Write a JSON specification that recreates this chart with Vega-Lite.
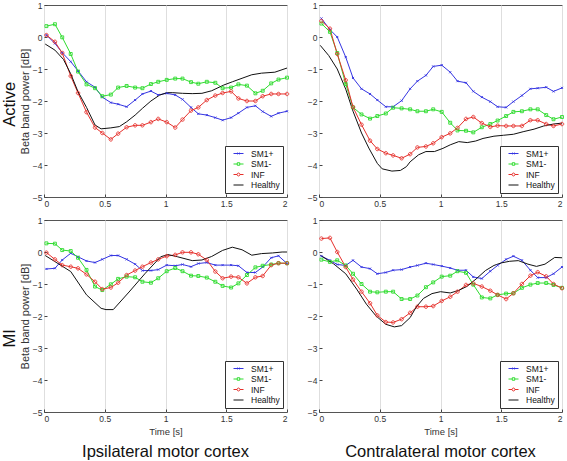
{
"$schema":"https://vega.github.io/schema/vega-lite/v6.json",
"padding":{"left":2,"top":0,"right":2,"bottom":0},
"config":{
 "font":"Liberation Sans",
 "view":{"stroke":"#555","strokeWidth":1},
 "axis":{"labelFont":"Liberation Sans","labelFontSize":8.5,"labelColor":"#333","titleFont":"Liberation Sans","titleFontSize":9.5,"titleFontWeight":"normal","titleColor":"#333","domain":false,"tickColor":"#444","tickSize":-3,"labelPadding":5,"gridColor":"#dedede","gridWidth":1},
 "title":{"font":"Liberation Sans","fontSize":16.5,"fontWeight":"normal","color":"#111"},
 "legend":{"labelFont":"Liberation Sans","labelFontSize":8.5,"labelColor":"#111","strokeColor":"#333","fillColor":"#fff","padding":3,"rowPadding":1.5,"symbolSize":64,"symbolStrokeWidth":1,"symbolOffset":6,"labelOffset":8,"orient":"bottom-right","offset":4,"title":null}
},
"datasets":{"d":[
{"p":"TL","s":"SM1+","t":0.02,"v":0.06},{"p":"TL","s":"SM1+","t":0.09,"v":-0.2},{"p":"TL","s":"SM1+","t":0.15,"v":-0.49},{"p":"TL","s":"SM1+","t":0.22,"v":-0.77},{"p":"TL","s":"SM1+","t":0.28,"v":-1.06},{"p":"TL","s":"SM1+","t":0.35,"v":-1.4},{"p":"TL","s":"SM1+","t":0.42,"v":-1.57},{"p":"TL","s":"SM1+","t":0.48,"v":-1.88},{"p":"TL","s":"SM1+","t":0.55,"v":-2.05},{"p":"TL","s":"SM1+","t":0.61,"v":-2.1},{"p":"TL","s":"SM1+","t":0.68,"v":-2.18},{"p":"TL","s":"SM1+","t":0.75,"v":-1.97},{"p":"TL","s":"SM1+","t":0.81,"v":-1.78},{"p":"TL","s":"SM1+","t":0.88,"v":-1.69},{"p":"TL","s":"SM1+","t":0.94,"v":-1.81},{"p":"TL","s":"SM1+","t":1.01,"v":-1.76},{"p":"TL","s":"SM1+","t":1.08,"v":-1.81},{"p":"TL","s":"SM1+","t":1.14,"v":-1.95},{"p":"TL","s":"SM1+","t":1.21,"v":-2.2},{"p":"TL","s":"SM1+","t":1.27,"v":-2.4},{"p":"TL","s":"SM1+","t":1.34,"v":-2.44},{"p":"TL","s":"SM1+","t":1.41,"v":-2.52},{"p":"TL","s":"SM1+","t":1.47,"v":-2.6},{"p":"TL","s":"SM1+","t":1.54,"v":-2.52},{"p":"TL","s":"SM1+","t":1.6,"v":-2.38},{"p":"TL","s":"SM1+","t":1.67,"v":-2.2},{"p":"TL","s":"SM1+","t":1.74,"v":-2.15},{"p":"TL","s":"SM1+","t":1.8,"v":-2.33},{"p":"TL","s":"SM1+","t":1.87,"v":-2.48},{"p":"TL","s":"SM1+","t":1.93,"v":-2.38},{"p":"TL","s":"SM1+","t":2,"v":-2.32},
{"p":"TL","s":"SM1-","t":0.02,"v":0.34},{"p":"TL","s":"SM1-","t":0.09,"v":0.4},{"p":"TL","s":"SM1-","t":0.15,"v":-0.01},{"p":"TL","s":"SM1-","t":0.22,"v":-0.53},{"p":"TL","s":"SM1-","t":0.28,"v":-1.08},{"p":"TL","s":"SM1-","t":0.35,"v":-1.48},{"p":"TL","s":"SM1-","t":0.42,"v":-1.6},{"p":"TL","s":"SM1-","t":0.48,"v":-1.85},{"p":"TL","s":"SM1-","t":0.55,"v":-1.8},{"p":"TL","s":"SM1-","t":0.61,"v":-1.58},{"p":"TL","s":"SM1-","t":0.68,"v":-1.53},{"p":"TL","s":"SM1-","t":0.75,"v":-1.58},{"p":"TL","s":"SM1-","t":0.81,"v":-1.6},{"p":"TL","s":"SM1-","t":0.88,"v":-1.47},{"p":"TL","s":"SM1-","t":0.94,"v":-1.4},{"p":"TL","s":"SM1-","t":1.01,"v":-1.34},{"p":"TL","s":"SM1-","t":1.08,"v":-1.3},{"p":"TL","s":"SM1-","t":1.14,"v":-1.3},{"p":"TL","s":"SM1-","t":1.21,"v":-1.41},{"p":"TL","s":"SM1-","t":1.27,"v":-1.46},{"p":"TL","s":"SM1-","t":1.34,"v":-1.4},{"p":"TL","s":"SM1-","t":1.41,"v":-1.43},{"p":"TL","s":"SM1-","t":1.47,"v":-1.6},{"p":"TL","s":"SM1-","t":1.54,"v":-1.58},{"p":"TL","s":"SM1-","t":1.6,"v":-1.48},{"p":"TL","s":"SM1-","t":1.67,"v":-1.52},{"p":"TL","s":"SM1-","t":1.74,"v":-1.76},{"p":"TL","s":"SM1-","t":1.8,"v":-1.68},{"p":"TL","s":"SM1-","t":1.87,"v":-1.45},{"p":"TL","s":"SM1-","t":1.93,"v":-1.33},{"p":"TL","s":"SM1-","t":2,"v":-1.27},
{"p":"TL","s":"INF","t":0.02,"v":0.06},{"p":"TL","s":"INF","t":0.09,"v":-0.15},{"p":"TL","s":"INF","t":0.15,"v":-0.5},{"p":"TL","s":"INF","t":0.22,"v":-1.22},{"p":"TL","s":"INF","t":0.28,"v":-1.75},{"p":"TL","s":"INF","t":0.35,"v":-2.35},{"p":"TL","s":"INF","t":0.42,"v":-2.83},{"p":"TL","s":"INF","t":0.48,"v":-3.0},{"p":"TL","s":"INF","t":0.55,"v":-3.2},{"p":"TL","s":"INF","t":0.61,"v":-3.02},{"p":"TL","s":"INF","t":0.68,"v":-2.82},{"p":"TL","s":"INF","t":0.75,"v":-2.76},{"p":"TL","s":"INF","t":0.81,"v":-2.76},{"p":"TL","s":"INF","t":0.88,"v":-2.66},{"p":"TL","s":"INF","t":0.94,"v":-2.56},{"p":"TL","s":"INF","t":1.01,"v":-2.66},{"p":"TL","s":"INF","t":1.08,"v":-2.83},{"p":"TL","s":"INF","t":1.14,"v":-2.58},{"p":"TL","s":"INF","t":1.21,"v":-2.3},{"p":"TL","s":"INF","t":1.27,"v":-2.2},{"p":"TL","s":"INF","t":1.34,"v":-1.97},{"p":"TL","s":"INF","t":1.41,"v":-1.83},{"p":"TL","s":"INF","t":1.47,"v":-1.75},{"p":"TL","s":"INF","t":1.54,"v":-1.7},{"p":"TL","s":"INF","t":1.6,"v":-1.92},{"p":"TL","s":"INF","t":1.67,"v":-2.0},{"p":"TL","s":"INF","t":1.74,"v":-2.0},{"p":"TL","s":"INF","t":1.8,"v":-1.85},{"p":"TL","s":"INF","t":1.87,"v":-1.78},{"p":"TL","s":"INF","t":1.93,"v":-1.78},{"p":"TL","s":"INF","t":2,"v":-1.78},
{"p":"TL","s":"Healthy","t":0.01,"v":-0.22},{"p":"TL","s":"Healthy","t":0.09,"v":-0.41},{"p":"TL","s":"Healthy","t":0.16,"v":-0.7},{"p":"TL","s":"Healthy","t":0.22,"v":-1.15},{"p":"TL","s":"Healthy","t":0.28,"v":-1.71},{"p":"TL","s":"Healthy","t":0.35,"v":-2.2},{"p":"TL","s":"Healthy","t":0.42,"v":-2.75},{"p":"TL","s":"Healthy","t":0.47,"v":-2.87},{"p":"TL","s":"Healthy","t":0.55,"v":-2.84},{"p":"TL","s":"Healthy","t":0.62,"v":-2.8},{"p":"TL","s":"Healthy","t":0.68,"v":-2.65},{"p":"TL","s":"Healthy","t":0.75,"v":-2.44},{"p":"TL","s":"Healthy","t":0.81,"v":-2.23},{"p":"TL","s":"Healthy","t":0.88,"v":-2.0},{"p":"TL","s":"Healthy","t":0.95,"v":-1.82},{"p":"TL","s":"Healthy","t":1.01,"v":-1.74},{"p":"TL","s":"Healthy","t":1.06,"v":-1.74},{"p":"TL","s":"Healthy","t":1.14,"v":-1.76},{"p":"TL","s":"Healthy","t":1.22,"v":-1.77},{"p":"TL","s":"Healthy","t":1.3,"v":-1.76},{"p":"TL","s":"Healthy","t":1.38,"v":-1.68},{"p":"TL","s":"Healthy","t":1.48,"v":-1.5},{"p":"TL","s":"Healthy","t":1.55,"v":-1.4},{"p":"TL","s":"Healthy","t":1.63,"v":-1.29},{"p":"TL","s":"Healthy","t":1.71,"v":-1.18},{"p":"TL","s":"Healthy","t":1.79,"v":-1.13},{"p":"TL","s":"Healthy","t":1.9,"v":-1.1},{"p":"TL","s":"Healthy","t":2,"v":-0.97},
{"p":"TR","s":"SM1+","t":0.02,"v":0.58},{"p":"TR","s":"SM1+","t":0.09,"v":0.23},{"p":"TR","s":"SM1+","t":0.15,"v":0.0},{"p":"TR","s":"SM1+","t":0.22,"v":-0.63},{"p":"TR","s":"SM1+","t":0.28,"v":-1.28},{"p":"TR","s":"SM1+","t":0.35,"v":-1.62},{"p":"TR","s":"SM1+","t":0.42,"v":-1.78},{"p":"TR","s":"SM1+","t":0.48,"v":-1.97},{"p":"TR","s":"SM1+","t":0.55,"v":-2.18},{"p":"TR","s":"SM1+","t":0.61,"v":-2.18},{"p":"TR","s":"SM1+","t":0.68,"v":-1.99},{"p":"TR","s":"SM1+","t":0.75,"v":-1.62},{"p":"TR","s":"SM1+","t":0.81,"v":-1.38},{"p":"TR","s":"SM1+","t":0.88,"v":-1.2},{"p":"TR","s":"SM1+","t":0.94,"v":-0.92},{"p":"TR","s":"SM1+","t":1.01,"v":-0.88},{"p":"TR","s":"SM1+","t":1.08,"v":-1.1},{"p":"TR","s":"SM1+","t":1.14,"v":-1.38},{"p":"TR","s":"SM1+","t":1.21,"v":-1.43},{"p":"TR","s":"SM1+","t":1.27,"v":-1.7},{"p":"TR","s":"SM1+","t":1.34,"v":-1.88},{"p":"TR","s":"SM1+","t":1.41,"v":-2.02},{"p":"TR","s":"SM1+","t":1.47,"v":-2.18},{"p":"TR","s":"SM1+","t":1.54,"v":-2.2},{"p":"TR","s":"SM1+","t":1.6,"v":-2.02},{"p":"TR","s":"SM1+","t":1.67,"v":-1.83},{"p":"TR","s":"SM1+","t":1.74,"v":-1.62},{"p":"TR","s":"SM1+","t":1.8,"v":-1.6},{"p":"TR","s":"SM1+","t":1.87,"v":-1.57},{"p":"TR","s":"SM1+","t":1.93,"v":-1.7},{"p":"TR","s":"SM1+","t":2,"v":-1.59},
{"p":"TR","s":"SM1-","t":0.02,"v":0.42},{"p":"TR","s":"SM1-","t":0.09,"v":0.16},{"p":"TR","s":"SM1-","t":0.15,"v":-0.5},{"p":"TR","s":"SM1-","t":0.22,"v":-1.47},{"p":"TR","s":"SM1-","t":0.28,"v":-2.2},{"p":"TR","s":"SM1-","t":0.35,"v":-2.42},{"p":"TR","s":"SM1-","t":0.42,"v":-2.55},{"p":"TR","s":"SM1-","t":0.48,"v":-2.47},{"p":"TR","s":"SM1-","t":0.55,"v":-2.39},{"p":"TR","s":"SM1-","t":0.61,"v":-2.21},{"p":"TR","s":"SM1-","t":0.68,"v":-2.23},{"p":"TR","s":"SM1-","t":0.75,"v":-2.26},{"p":"TR","s":"SM1-","t":0.81,"v":-2.32},{"p":"TR","s":"SM1-","t":0.88,"v":-2.32},{"p":"TR","s":"SM1-","t":0.94,"v":-2.26},{"p":"TR","s":"SM1-","t":1.01,"v":-2.34},{"p":"TR","s":"SM1-","t":1.08,"v":-2.68},{"p":"TR","s":"SM1-","t":1.14,"v":-2.92},{"p":"TR","s":"SM1-","t":1.21,"v":-2.93},{"p":"TR","s":"SM1-","t":1.27,"v":-2.98},{"p":"TR","s":"SM1-","t":1.34,"v":-2.82},{"p":"TR","s":"SM1-","t":1.41,"v":-2.72},{"p":"TR","s":"SM1-","t":1.47,"v":-2.61},{"p":"TR","s":"SM1-","t":1.54,"v":-2.47},{"p":"TR","s":"SM1-","t":1.6,"v":-2.34},{"p":"TR","s":"SM1-","t":1.67,"v":-2.32},{"p":"TR","s":"SM1-","t":1.74,"v":-2.26},{"p":"TR","s":"SM1-","t":1.8,"v":-2.26},{"p":"TR","s":"SM1-","t":1.87,"v":-2.44},{"p":"TR","s":"SM1-","t":1.93,"v":-2.57},{"p":"TR","s":"SM1-","t":2,"v":-2.5},
{"p":"TR","s":"INF","t":0.02,"v":0.5},{"p":"TR","s":"INF","t":0.09,"v":0.26},{"p":"TR","s":"INF","t":0.15,"v":-0.53},{"p":"TR","s":"INF","t":0.22,"v":-1.35},{"p":"TR","s":"INF","t":0.28,"v":-2.19},{"p":"TR","s":"INF","t":0.35,"v":-2.74},{"p":"TR","s":"INF","t":0.42,"v":-3.24},{"p":"TR","s":"INF","t":0.48,"v":-3.5},{"p":"TR","s":"INF","t":0.55,"v":-3.63},{"p":"TR","s":"INF","t":0.61,"v":-3.7},{"p":"TR","s":"INF","t":0.68,"v":-3.79},{"p":"TR","s":"INF","t":0.75,"v":-3.66},{"p":"TR","s":"INF","t":0.81,"v":-3.45},{"p":"TR","s":"INF","t":0.88,"v":-3.42},{"p":"TR","s":"INF","t":0.94,"v":-3.32},{"p":"TR","s":"INF","t":1.01,"v":-3.13},{"p":"TR","s":"INF","t":1.08,"v":-3.01},{"p":"TR","s":"INF","t":1.14,"v":-2.84},{"p":"TR","s":"INF","t":1.21,"v":-2.56},{"p":"TR","s":"INF","t":1.27,"v":-2.5},{"p":"TR","s":"INF","t":1.34,"v":-2.69},{"p":"TR","s":"INF","t":1.41,"v":-2.81},{"p":"TR","s":"INF","t":1.47,"v":-2.77},{"p":"TR","s":"INF","t":1.54,"v":-2.78},{"p":"TR","s":"INF","t":1.6,"v":-2.78},{"p":"TR","s":"INF","t":1.67,"v":-2.78},{"p":"TR","s":"INF","t":1.74,"v":-2.6},{"p":"TR","s":"INF","t":1.8,"v":-2.6},{"p":"TR","s":"INF","t":1.87,"v":-2.72},{"p":"TR","s":"INF","t":1.93,"v":-2.78},{"p":"TR","s":"INF","t":2,"v":-2.72},
{"p":"TR","s":"Healthy","t":0.01,"v":-0.26},{"p":"TR","s":"Healthy","t":0.08,"v":-0.58},{"p":"TR","s":"Healthy","t":0.15,"v":-1.0},{"p":"TR","s":"Healthy","t":0.22,"v":-1.63},{"p":"TR","s":"Healthy","t":0.28,"v":-2.32},{"p":"TR","s":"Healthy","t":0.35,"v":-3.0},{"p":"TR","s":"Healthy","t":0.41,"v":-3.47},{"p":"TR","s":"Healthy","t":0.48,"v":-3.95},{"p":"TR","s":"Healthy","t":0.52,"v":-4.12},{"p":"TR","s":"Healthy","t":0.6,"v":-4.19},{"p":"TR","s":"Healthy","t":0.67,"v":-4.17},{"p":"TR","s":"Healthy","t":0.72,"v":-4.05},{"p":"TR","s":"Healthy","t":0.75,"v":-3.9},{"p":"TR","s":"Healthy","t":0.82,"v":-3.68},{"p":"TR","s":"Healthy","t":0.88,"v":-3.58},{"p":"TR","s":"Healthy","t":0.95,"v":-3.58},{"p":"TR","s":"Healthy","t":1.02,"v":-3.48},{"p":"TR","s":"Healthy","t":1.08,"v":-3.37},{"p":"TR","s":"Healthy","t":1.15,"v":-3.27},{"p":"TR","s":"Healthy","t":1.22,"v":-3.3},{"p":"TR","s":"Healthy","t":1.29,"v":-3.25},{"p":"TR","s":"Healthy","t":1.35,"v":-3.17},{"p":"TR","s":"Healthy","t":1.44,"v":-3.1},{"p":"TR","s":"Healthy","t":1.52,"v":-3.07},{"p":"TR","s":"Healthy","t":1.6,"v":-3.04},{"p":"TR","s":"Healthy","t":1.68,"v":-2.96},{"p":"TR","s":"Healthy","t":1.77,"v":-2.88},{"p":"TR","s":"Healthy","t":1.85,"v":-2.78},{"p":"TR","s":"Healthy","t":1.93,"v":-2.72},{"p":"TR","s":"Healthy","t":2,"v":-2.69},
{"p":"BL","s":"SM1+","t":0.02,"v":-0.53},{"p":"BL","s":"SM1+","t":0.09,"v":-0.51},{"p":"BL","s":"SM1+","t":0.15,"v":-0.25},{"p":"BL","s":"SM1+","t":0.22,"v":-0.04},{"p":"BL","s":"SM1+","t":0.28,"v":-0.15},{"p":"BL","s":"SM1+","t":0.35,"v":-0.28},{"p":"BL","s":"SM1+","t":0.42,"v":-0.33},{"p":"BL","s":"SM1+","t":0.48,"v":-0.23},{"p":"BL","s":"SM1+","t":0.55,"v":-0.11},{"p":"BL","s":"SM1+","t":0.61,"v":-0.11},{"p":"BL","s":"SM1+","t":0.68,"v":-0.23},{"p":"BL","s":"SM1+","t":0.75,"v":-0.38},{"p":"BL","s":"SM1+","t":0.81,"v":-0.58},{"p":"BL","s":"SM1+","t":0.88,"v":-0.58},{"p":"BL","s":"SM1+","t":0.94,"v":-0.55},{"p":"BL","s":"SM1+","t":1.01,"v":-0.41},{"p":"BL","s":"SM1+","t":1.08,"v":-0.43},{"p":"BL","s":"SM1+","t":1.14,"v":-0.39},{"p":"BL","s":"SM1+","t":1.21,"v":-0.46},{"p":"BL","s":"SM1+","t":1.27,"v":-0.36},{"p":"BL","s":"SM1+","t":1.34,"v":-0.33},{"p":"BL","s":"SM1+","t":1.41,"v":-0.41},{"p":"BL","s":"SM1+","t":1.47,"v":-0.41},{"p":"BL","s":"SM1+","t":1.54,"v":-0.41},{"p":"BL","s":"SM1+","t":1.6,"v":-0.43},{"p":"BL","s":"SM1+","t":1.67,"v":-0.64},{"p":"BL","s":"SM1+","t":1.74,"v":-0.64},{"p":"BL","s":"SM1+","t":1.8,"v":-0.47},{"p":"BL","s":"SM1+","t":1.87,"v":-0.18},{"p":"BL","s":"SM1+","t":1.93,"v":-0.12},{"p":"BL","s":"SM1+","t":2,"v":-0.36},
{"p":"BL","s":"SM1-","t":0.02,"v":0.27},{"p":"BL","s":"SM1-","t":0.09,"v":0.26},{"p":"BL","s":"SM1-","t":0.15,"v":0.06},{"p":"BL","s":"SM1-","t":0.22,"v":0.03},{"p":"BL","s":"SM1-","t":0.28,"v":-0.18},{"p":"BL","s":"SM1-","t":0.35,"v":-0.56},{"p":"BL","s":"SM1-","t":0.42,"v":-1.08},{"p":"BL","s":"SM1-","t":0.48,"v":-1.19},{"p":"BL","s":"SM1-","t":0.55,"v":-1.01},{"p":"BL","s":"SM1-","t":0.61,"v":-0.84},{"p":"BL","s":"SM1-","t":0.68,"v":-0.77},{"p":"BL","s":"SM1-","t":0.75,"v":-0.79},{"p":"BL","s":"SM1-","t":0.81,"v":-0.93},{"p":"BL","s":"SM1-","t":0.88,"v":-0.96},{"p":"BL","s":"SM1-","t":0.94,"v":-0.82},{"p":"BL","s":"SM1-","t":1.01,"v":-0.6},{"p":"BL","s":"SM1-","t":1.08,"v":-0.5},{"p":"BL","s":"SM1-","t":1.14,"v":-0.6},{"p":"BL","s":"SM1-","t":1.21,"v":-0.74},{"p":"BL","s":"SM1-","t":1.27,"v":-0.75},{"p":"BL","s":"SM1-","t":1.34,"v":-0.8},{"p":"BL","s":"SM1-","t":1.41,"v":-0.93},{"p":"BL","s":"SM1-","t":1.47,"v":-1.06},{"p":"BL","s":"SM1-","t":1.54,"v":-1.11},{"p":"BL","s":"SM1-","t":1.6,"v":-0.98},{"p":"BL","s":"SM1-","t":1.67,"v":-0.72},{"p":"BL","s":"SM1-","t":1.74,"v":-0.48},{"p":"BL","s":"SM1-","t":1.8,"v":-0.43},{"p":"BL","s":"SM1-","t":1.87,"v":-0.39},{"p":"BL","s":"SM1-","t":1.93,"v":-0.35},{"p":"BL","s":"SM1-","t":2,"v":-0.35},
{"p":"BL","s":"INF","t":0.02,"v":-0.02},{"p":"BL","s":"INF","t":0.09,"v":-0.23},{"p":"BL","s":"INF","t":0.15,"v":-0.41},{"p":"BL","s":"INF","t":0.22,"v":-0.46},{"p":"BL","s":"INF","t":0.28,"v":-0.51},{"p":"BL","s":"INF","t":0.35,"v":-0.7},{"p":"BL","s":"INF","t":0.42,"v":-0.93},{"p":"BL","s":"INF","t":0.48,"v":-1.16},{"p":"BL","s":"INF","t":0.55,"v":-1.11},{"p":"BL","s":"INF","t":0.61,"v":-0.96},{"p":"BL","s":"INF","t":0.68,"v":-0.72},{"p":"BL","s":"INF","t":0.75,"v":-0.58},{"p":"BL","s":"INF","t":0.81,"v":-0.46},{"p":"BL","s":"INF","t":0.88,"v":-0.33},{"p":"BL","s":"INF","t":0.94,"v":-0.23},{"p":"BL","s":"INF","t":1.01,"v":-0.13},{"p":"BL","s":"INF","t":1.08,"v":-0.09},{"p":"BL","s":"INF","t":1.14,"v":-0.01},{"p":"BL","s":"INF","t":1.21,"v":-0.01},{"p":"BL","s":"INF","t":1.27,"v":-0.07},{"p":"BL","s":"INF","t":1.34,"v":-0.25},{"p":"BL","s":"INF","t":1.41,"v":-0.61},{"p":"BL","s":"INF","t":1.47,"v":-0.82},{"p":"BL","s":"INF","t":1.54,"v":-0.77},{"p":"BL","s":"INF","t":1.6,"v":-0.79},{"p":"BL","s":"INF","t":1.67,"v":-0.98},{"p":"BL","s":"INF","t":1.74,"v":-0.79},{"p":"BL","s":"INF","t":1.8,"v":-0.75},{"p":"BL","s":"INF","t":1.87,"v":-0.41},{"p":"BL","s":"INF","t":1.93,"v":-0.35},{"p":"BL","s":"INF","t":2,"v":-0.35},
{"p":"BL","s":"Healthy","t":0.01,"v":-0.11},{"p":"BL","s":"Healthy","t":0.09,"v":-0.3},{"p":"BL","s":"Healthy","t":0.22,"v":-0.61},{"p":"BL","s":"Healthy","t":0.35,"v":-1.34},{"p":"BL","s":"Healthy","t":0.47,"v":-1.76},{"p":"BL","s":"Healthy","t":0.51,"v":-1.8},{"p":"BL","s":"Healthy","t":0.57,"v":-1.8},{"p":"BL","s":"Healthy","t":0.7,"v":-1.25},{"p":"BL","s":"Healthy","t":0.83,"v":-0.68},{"p":"BL","s":"Healthy","t":0.96,"v":-0.15},{"p":"BL","s":"Healthy","t":1.02,"v":-0.08},{"p":"BL","s":"Healthy","t":1.1,"v":-0.15},{"p":"BL","s":"Healthy","t":1.22,"v":-0.27},{"p":"BL","s":"Healthy","t":1.3,"v":-0.25},{"p":"BL","s":"Healthy","t":1.38,"v":-0.14},{"p":"BL","s":"Healthy","t":1.47,"v":0.05},{"p":"BL","s":"Healthy","t":1.55,"v":0.15},{"p":"BL","s":"Healthy","t":1.63,"v":0.07},{"p":"BL","s":"Healthy","t":1.71,"v":-0.1},{"p":"BL","s":"Healthy","t":1.79,"v":-0.05},{"p":"BL","s":"Healthy","t":1.88,"v":-0.03},{"p":"BL","s":"Healthy","t":1.96,"v":0.0},{"p":"BL","s":"Healthy","t":2,"v":0.0},
{"p":"BR","s":"SM1+","t":0.02,"v":-0.13},{"p":"BR","s":"SM1+","t":0.09,"v":-0.26},{"p":"BR","s":"SM1+","t":0.15,"v":-0.39},{"p":"BR","s":"SM1+","t":0.22,"v":-0.42},{"p":"BR","s":"SM1+","t":0.28,"v":-0.26},{"p":"BR","s":"SM1+","t":0.35,"v":-0.47},{"p":"BR","s":"SM1+","t":0.42,"v":-0.52},{"p":"BR","s":"SM1+","t":0.48,"v":-0.68},{"p":"BR","s":"SM1+","t":0.55,"v":-0.64},{"p":"BR","s":"SM1+","t":0.61,"v":-0.57},{"p":"BR","s":"SM1+","t":0.68,"v":-0.55},{"p":"BR","s":"SM1+","t":0.75,"v":-0.47},{"p":"BR","s":"SM1+","t":0.81,"v":-0.42},{"p":"BR","s":"SM1+","t":0.88,"v":-0.35},{"p":"BR","s":"SM1+","t":0.94,"v":-0.39},{"p":"BR","s":"SM1+","t":1.01,"v":-0.44},{"p":"BR","s":"SM1+","t":1.08,"v":-0.5},{"p":"BR","s":"SM1+","t":1.14,"v":-0.57},{"p":"BR","s":"SM1+","t":1.21,"v":-0.57},{"p":"BR","s":"SM1+","t":1.27,"v":-0.78},{"p":"BR","s":"SM1+","t":1.34,"v":-0.83},{"p":"BR","s":"SM1+","t":1.41,"v":-0.6},{"p":"BR","s":"SM1+","t":1.47,"v":-0.42},{"p":"BR","s":"SM1+","t":1.54,"v":-0.23},{"p":"BR","s":"SM1+","t":1.6,"v":-0.13},{"p":"BR","s":"SM1+","t":1.67,"v":-0.26},{"p":"BR","s":"SM1+","t":1.74,"v":-0.57},{"p":"BR","s":"SM1+","t":1.8,"v":-0.8},{"p":"BR","s":"SM1+","t":1.87,"v":-0.8},{"p":"BR","s":"SM1+","t":1.93,"v":-0.68},{"p":"BR","s":"SM1+","t":2,"v":-0.47},
{"p":"BR","s":"SM1-","t":0.02,"v":-0.24},{"p":"BR","s":"SM1-","t":0.09,"v":-0.31},{"p":"BR","s":"SM1-","t":0.15,"v":-0.26},{"p":"BR","s":"SM1-","t":0.22,"v":-0.42},{"p":"BR","s":"SM1-","t":0.28,"v":-0.68},{"p":"BR","s":"SM1-","t":0.35,"v":-1.0},{"p":"BR","s":"SM1-","t":0.42,"v":-1.24},{"p":"BR","s":"SM1-","t":0.48,"v":-1.26},{"p":"BR","s":"SM1-","t":0.55,"v":-1.24},{"p":"BR","s":"SM1-","t":0.61,"v":-1.24},{"p":"BR","s":"SM1-","t":0.68,"v":-1.47},{"p":"BR","s":"SM1-","t":0.75,"v":-1.47},{"p":"BR","s":"SM1-","t":0.81,"v":-1.36},{"p":"BR","s":"SM1-","t":0.88,"v":-1.1},{"p":"BR","s":"SM1-","t":0.94,"v":-0.95},{"p":"BR","s":"SM1-","t":1.01,"v":-0.77},{"p":"BR","s":"SM1-","t":1.08,"v":-0.74},{"p":"BR","s":"SM1-","t":1.14,"v":-0.6},{"p":"BR","s":"SM1-","t":1.21,"v":-0.65},{"p":"BR","s":"SM1-","t":1.27,"v":-1.02},{"p":"BR","s":"SM1-","t":1.34,"v":-1.42},{"p":"BR","s":"SM1-","t":1.41,"v":-1.45},{"p":"BR","s":"SM1-","t":1.47,"v":-1.34},{"p":"BR","s":"SM1-","t":1.54,"v":-1.3},{"p":"BR","s":"SM1-","t":1.6,"v":-1.29},{"p":"BR","s":"SM1-","t":1.67,"v":-1.12},{"p":"BR","s":"SM1-","t":1.74,"v":-1.02},{"p":"BR","s":"SM1-","t":1.8,"v":-0.97},{"p":"BR","s":"SM1-","t":1.87,"v":-0.97},{"p":"BR","s":"SM1-","t":1.93,"v":-1.03},{"p":"BR","s":"SM1-","t":2,"v":-1.12},
{"p":"BR","s":"INF","t":0.02,"v":0.42},{"p":"BR","s":"INF","t":0.09,"v":0.44},{"p":"BR","s":"INF","t":0.15,"v":0.0},{"p":"BR","s":"INF","t":0.22,"v":-0.47},{"p":"BR","s":"INF","t":0.28,"v":-0.86},{"p":"BR","s":"INF","t":0.35,"v":-1.24},{"p":"BR","s":"INF","t":0.42,"v":-1.6},{"p":"BR","s":"INF","t":0.48,"v":-1.98},{"p":"BR","s":"INF","t":0.55,"v":-2.19},{"p":"BR","s":"INF","t":0.61,"v":-2.2},{"p":"BR","s":"INF","t":0.68,"v":-2.1},{"p":"BR","s":"INF","t":0.75,"v":-1.9},{"p":"BR","s":"INF","t":0.81,"v":-1.71},{"p":"BR","s":"INF","t":0.88,"v":-1.71},{"p":"BR","s":"INF","t":0.94,"v":-1.69},{"p":"BR","s":"INF","t":1.01,"v":-1.53},{"p":"BR","s":"INF","t":1.08,"v":-1.4},{"p":"BR","s":"INF","t":1.14,"v":-1.24},{"p":"BR","s":"INF","t":1.21,"v":-1.03},{"p":"BR","s":"INF","t":1.27,"v":-0.98},{"p":"BR","s":"INF","t":1.34,"v":-1.08},{"p":"BR","s":"INF","t":1.41,"v":-1.21},{"p":"BR","s":"INF","t":1.47,"v":-1.34},{"p":"BR","s":"INF","t":1.54,"v":-1.47},{"p":"BR","s":"INF","t":1.6,"v":-1.29},{"p":"BR","s":"INF","t":1.67,"v":-1.0},{"p":"BR","s":"INF","t":1.74,"v":-0.74},{"p":"BR","s":"INF","t":1.8,"v":-0.63},{"p":"BR","s":"INF","t":1.87,"v":-0.76},{"p":"BR","s":"INF","t":1.93,"v":-1.0},{"p":"BR","s":"INF","t":2,"v":-1.13},
{"p":"BR","s":"Healthy","t":0.01,"v":-0.1},{"p":"BR","s":"Healthy","t":0.12,"v":-0.37},{"p":"BR","s":"Healthy","t":0.22,"v":-0.68},{"p":"BR","s":"Healthy","t":0.31,"v":-1.16},{"p":"BR","s":"Healthy","t":0.39,"v":-1.63},{"p":"BR","s":"Healthy","t":0.47,"v":-2.0},{"p":"BR","s":"Healthy","t":0.55,"v":-2.26},{"p":"BR","s":"Healthy","t":0.62,"v":-2.34},{"p":"BR","s":"Healthy","t":0.68,"v":-2.3},{"p":"BR","s":"Healthy","t":0.75,"v":-2.05},{"p":"BR","s":"Healthy","t":0.8,"v":-1.72},{"p":"BR","s":"Healthy","t":0.86,"v":-1.45},{"p":"BR","s":"Healthy","t":0.93,"v":-1.3},{"p":"BR","s":"Healthy","t":1.0,"v":-1.24},{"p":"BR","s":"Healthy","t":1.08,"v":-1.28},{"p":"BR","s":"Healthy","t":1.15,"v":-1.2},{"p":"BR","s":"Healthy","t":1.22,"v":-1.07},{"p":"BR","s":"Healthy","t":1.3,"v":-0.82},{"p":"BR","s":"Healthy","t":1.37,"v":-0.58},{"p":"BR","s":"Healthy","t":1.44,"v":-0.42},{"p":"BR","s":"Healthy","t":1.5,"v":-0.34},{"p":"BR","s":"Healthy","t":1.57,"v":-0.29},{"p":"BR","s":"Healthy","t":1.64,"v":-0.27},{"p":"BR","s":"Healthy","t":1.72,"v":-0.38},{"p":"BR","s":"Healthy","t":1.79,"v":-0.45},{"p":"BR","s":"Healthy","t":1.86,"v":-0.38},{"p":"BR","s":"Healthy","t":1.94,"v":-0.17},{"p":"BR","s":"Healthy","t":2,"v":-0.18}
]},
"data":{"name":"d"},
"spacing":7,
"resolve":{"scale":{"color":"independent","shape":"independent"},"legend":{"color":"independent","shape":"independent"}},
"vconcat":[
{"title":{"text":"Active","orient":"left","anchor":"middle","offset":0},
 "spacing":14,
 "resolve":{"scale":{"color":"independent","shape":"independent"},"legend":{"color":"independent","shape":"independent"}},
 "hconcat":[
  {"width":243,"height":192,"transform":[{"filter":"datum.p==='TL'"}],
   "encoding":{
    "x":{"field":"t","type":"quantitative","scale":{"domain":[0,2],"nice":false,"zero":false},"axis":{"values":[0,0.5,1,1.5,2],"format":"~g","title":null,"grid":true}},
    "y":{"field":"v","type":"quantitative","scale":{"domain":[-5,1],"nice":false},"axis":{"values":[-5,-4,-3,-2,-1,0,1],"format":"d","title":"Beta band power [dB]","titleFontSize":11,"grid":false,"titlePadding":2}},
    "color":{"field":"s","type":"nominal","scale":{"domain":["SM1+","SM1-","INF","Healthy"],"range":["#3535e2","#2fdc2f","#e6302b","#111111"]}}
   },
   "layer":[
    {"mark":{"type":"line","strokeWidth":1},"encoding":{}},
    {"transform":[{"filter":"datum.s==='SM1+'"}],"mark":{"type":"point","filled":false,"strokeWidth":0.9,"size":12,"opacity":1,"shape":"M-0.6,-0.6L0.6,0.6M-0.6,0.6L0.6,-0.6"},"encoding":{}},
    {"transform":[{"filter":"datum.s==='SM1-'"}],"mark":{"type":"point","filled":false,"strokeWidth":0.9,"size":12,"opacity":1,"shape":"M-0.85,-0.85H0.85V0.85H-0.85Z"},"encoding":{}},
    {"transform":[{"filter":"datum.s==='INF'"}],"mark":{"type":"point","filled":false,"strokeWidth":0.9,"size":12,"opacity":1,"shape":"M-1,0A1,1,0,1,0,1,0A1,1,0,1,0,-1,0"},"encoding":{}},
    {"transform":[{"filter":"false"}],"mark":{"type":"point","filled":false,"strokeWidth":1,"opacity":1},
     "encoding":{"shape":{"field":"s","type":"nominal","scale":{"domain":["SM1+","SM1-","INF","Healthy"],"range":["M-1.25,0H1.25M-0.22,-0.22L0.22,0.22M-0.22,0.22L0.22,-0.22","M-1.25,0H-0.31M0.31,0H1.25M-0.31,-0.31H0.31V0.31H-0.31Z","M-1.25,0H-0.37M0.37,0H1.25M-0.37,0A0.37,0.37,0,1,0,0.37,0A0.37,0.37,0,1,0,-0.37,0","M-1.25,0H1.25"]}}}}
   ]},
  {"width":243,"height":192,"transform":[{"filter":"datum.p==='TR'"}],
   "encoding":{
    "x":{"field":"t","type":"quantitative","scale":{"domain":[0,2],"nice":false,"zero":false},"axis":{"values":[0,0.5,1,1.5,2],"format":"~g","title":null,"grid":true}},
    "y":{"field":"v","type":"quantitative","scale":{"domain":[-5,1],"nice":false},"axis":{"values":[-5,-4,-3,-2,-1,0,1],"format":"d","title":null,"grid":false}},
    "color":{"field":"s","type":"nominal","scale":{"domain":["SM1+","SM1-","INF","Healthy"],"range":["#3535e2","#2fdc2f","#e6302b","#111111"]}}
   },
   "layer":[
    {"mark":{"type":"line","strokeWidth":1},"encoding":{}},
    {"transform":[{"filter":"datum.s==='SM1+'"}],"mark":{"type":"point","filled":false,"strokeWidth":0.9,"size":12,"opacity":1,"shape":"M-0.6,-0.6L0.6,0.6M-0.6,0.6L0.6,-0.6"},"encoding":{}},
    {"transform":[{"filter":"datum.s==='SM1-'"}],"mark":{"type":"point","filled":false,"strokeWidth":0.9,"size":12,"opacity":1,"shape":"M-0.85,-0.85H0.85V0.85H-0.85Z"},"encoding":{}},
    {"transform":[{"filter":"datum.s==='INF'"}],"mark":{"type":"point","filled":false,"strokeWidth":0.9,"size":12,"opacity":1,"shape":"M-1,0A1,1,0,1,0,1,0A1,1,0,1,0,-1,0"},"encoding":{}},
    {"transform":[{"filter":"false"}],"mark":{"type":"point","filled":false,"strokeWidth":1,"opacity":1},
     "encoding":{"shape":{"field":"s","type":"nominal","scale":{"domain":["SM1+","SM1-","INF","Healthy"],"range":["M-1.25,0H1.25M-0.22,-0.22L0.22,0.22M-0.22,0.22L0.22,-0.22","M-1.25,0H-0.31M0.31,0H1.25M-0.31,-0.31H0.31V0.31H-0.31Z","M-1.25,0H-0.37M0.37,0H1.25M-0.37,0A0.37,0.37,0,1,0,0.37,0A0.37,0.37,0,1,0,-0.37,0","M-1.25,0H1.25"]}}}}
   ]}
 ]},
{"title":{"text":"MI","orient":"left","anchor":"middle","offset":0},
 "spacing":14,
 "resolve":{"scale":{"color":"independent","shape":"independent"},"legend":{"color":"independent","shape":"independent"}},
 "hconcat":[
  {"width":243,"height":192,"transform":[{"filter":"datum.p==='BL'"}],
   "title":{"text":"Ipsilateral motor cortex","orient":"bottom","anchor":"middle","offset":8},
   "encoding":{
    "x":{"field":"t","type":"quantitative","scale":{"domain":[0,2],"nice":false,"zero":false},"axis":{"values":[0,0.5,1,1.5,2],"format":"~g","title":"Time [s]","grid":true,"titlePadding":4}},
    "y":{"field":"v","type":"quantitative","scale":{"domain":[-5,1],"nice":false},"axis":{"values":[-5,-4,-3,-2,-1,0,1],"format":"d","title":"Beta band power [dB]","titleFontSize":11,"grid":false,"titlePadding":2}},
    "color":{"field":"s","type":"nominal","scale":{"domain":["SM1+","SM1-","INF","Healthy"],"range":["#3535e2","#2fdc2f","#e6302b","#111111"]}}
   },
   "layer":[
    {"mark":{"type":"line","strokeWidth":1},"encoding":{}},
    {"transform":[{"filter":"datum.s==='SM1+'"}],"mark":{"type":"point","filled":false,"strokeWidth":0.9,"size":12,"opacity":1,"shape":"M-0.6,-0.6L0.6,0.6M-0.6,0.6L0.6,-0.6"},"encoding":{}},
    {"transform":[{"filter":"datum.s==='SM1-'"}],"mark":{"type":"point","filled":false,"strokeWidth":0.9,"size":12,"opacity":1,"shape":"M-0.85,-0.85H0.85V0.85H-0.85Z"},"encoding":{}},
    {"transform":[{"filter":"datum.s==='INF'"}],"mark":{"type":"point","filled":false,"strokeWidth":0.9,"size":12,"opacity":1,"shape":"M-1,0A1,1,0,1,0,1,0A1,1,0,1,0,-1,0"},"encoding":{}},
    {"transform":[{"filter":"false"}],"mark":{"type":"point","filled":false,"strokeWidth":1,"opacity":1},
     "encoding":{"shape":{"field":"s","type":"nominal","scale":{"domain":["SM1+","SM1-","INF","Healthy"],"range":["M-1.25,0H1.25M-0.22,-0.22L0.22,0.22M-0.22,0.22L0.22,-0.22","M-1.25,0H-0.31M0.31,0H1.25M-0.31,-0.31H0.31V0.31H-0.31Z","M-1.25,0H-0.37M0.37,0H1.25M-0.37,0A0.37,0.37,0,1,0,0.37,0A0.37,0.37,0,1,0,-0.37,0","M-1.25,0H1.25"]}}}}
   ]},
  {"width":243,"height":192,"transform":[{"filter":"datum.p==='BR'"}],
   "title":{"text":"Contralateral motor cortex","orient":"bottom","anchor":"middle","offset":8},
   "encoding":{
    "x":{"field":"t","type":"quantitative","scale":{"domain":[0,2],"nice":false,"zero":false},"axis":{"values":[0,0.5,1,1.5,2],"format":"~g","title":"Time [s]","grid":true,"titlePadding":4}},
    "y":{"field":"v","type":"quantitative","scale":{"domain":[-5,1],"nice":false},"axis":{"values":[-5,-4,-3,-2,-1,0,1],"format":"d","title":null,"grid":false}},
    "color":{"field":"s","type":"nominal","scale":{"domain":["SM1+","SM1-","INF","Healthy"],"range":["#3535e2","#2fdc2f","#e6302b","#111111"]}}
   },
   "layer":[
    {"mark":{"type":"line","strokeWidth":1},"encoding":{}},
    {"transform":[{"filter":"datum.s==='SM1+'"}],"mark":{"type":"point","filled":false,"strokeWidth":0.9,"size":12,"opacity":1,"shape":"M-0.6,-0.6L0.6,0.6M-0.6,0.6L0.6,-0.6"},"encoding":{}},
    {"transform":[{"filter":"datum.s==='SM1-'"}],"mark":{"type":"point","filled":false,"strokeWidth":0.9,"size":12,"opacity":1,"shape":"M-0.85,-0.85H0.85V0.85H-0.85Z"},"encoding":{}},
    {"transform":[{"filter":"datum.s==='INF'"}],"mark":{"type":"point","filled":false,"strokeWidth":0.9,"size":12,"opacity":1,"shape":"M-1,0A1,1,0,1,0,1,0A1,1,0,1,0,-1,0"},"encoding":{}},
    {"transform":[{"filter":"false"}],"mark":{"type":"point","filled":false,"strokeWidth":1,"opacity":1},
     "encoding":{"shape":{"field":"s","type":"nominal","scale":{"domain":["SM1+","SM1-","INF","Healthy"],"range":["M-1.25,0H1.25M-0.22,-0.22L0.22,0.22M-0.22,0.22L0.22,-0.22","M-1.25,0H-0.31M0.31,0H1.25M-0.31,-0.31H0.31V0.31H-0.31Z","M-1.25,0H-0.37M0.37,0H1.25M-0.37,0A0.37,0.37,0,1,0,0.37,0A0.37,0.37,0,1,0,-0.37,0","M-1.25,0H1.25"]}}}}
   ]}
 ]}
]
}
